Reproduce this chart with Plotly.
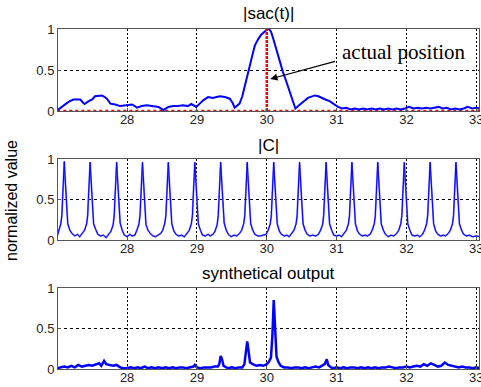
import plotly.graph_objects as go

# ---------------- data ----------------
# |sac(t)|
sac_x = [27.00, 27.03, 27.07, 27.12, 27.16, 27.23, 27.28, 27.33, 27.36, 27.39, 27.45, 27.50, 27.54,
         27.60, 27.64, 27.68, 27.71, 27.76, 27.83, 27.90, 27.97, 28.02, 28.07, 28.11, 28.14, 28.21,
         28.28, 28.33, 28.38, 28.45, 28.52, 28.59, 28.66, 28.73, 28.80, 28.87, 28.92, 28.96, 28.99,
         29.04, 29.09, 29.16, 29.23, 29.28, 29.33, 29.40, 29.47, 29.51, 29.54, 29.61, 29.65, 29.69,
         29.72, 29.76, 29.80, 29.83, 29.88, 29.92, 29.96, 30.00, 30.03, 30.06, 30.09, 30.12, 30.16,
         30.20, 30.23, 30.28, 30.33, 30.37, 30.41, 30.45, 30.50, 30.55, 30.59, 30.64, 30.69, 30.74,
         30.78, 30.84, 30.90, 30.96, 31.02, 31.08, 31.14, 31.20, 31.26, 31.32, 31.38, 31.44, 31.50,
         31.56, 31.62, 31.68, 31.74, 31.80, 31.86, 31.92, 31.98, 32.04, 32.10, 32.16, 32.22, 32.28,
         32.34, 32.40, 32.46, 32.52, 32.58, 32.64, 32.70, 32.76, 32.82, 32.88, 32.94, 33.00, 33.05]
sac_y = [0.01, 0.03, 0.05, 0.09, 0.11, 0.14, 0.14, 0.14, 0.11, 0.085, 0.12, 0.14, 0.18,
         0.19, 0.19, 0.17, 0.15, 0.09, 0.08, 0.06, 0.07, 0.07, 0.08, 0.06, 0.04, 0.06,
         0.07, 0.065, 0.06, 0.05, 0.01, 0.05, 0.06, 0.06, 0.07, 0.06, 0.085, 0.06, 0.05,
         0.09, 0.13, 0.17, 0.16, 0.17, 0.18, 0.17, 0.15, 0.10, 0.04, 0.09, 0.18, 0.32,
         0.44, 0.56, 0.70, 0.80, 0.88, 0.93, 0.96, 0.99, 1.00, 0.97, 0.89, 0.80, 0.68,
         0.56, 0.48, 0.36, 0.24, 0.13, 0.03, 0.06, 0.09, 0.13, 0.16, 0.18, 0.19, 0.18,
         0.16, 0.14, 0.12, 0.08, 0.05, 0.03, 0.04, 0.02, 0.03, 0.02, 0.03, 0.02, 0.03,
         0.02, 0.03, 0.02, 0.03, 0.02, 0.03, 0.02, 0.03, 0.05, 0.03, 0.04, 0.03, 0.04,
         0.03, 0.04, 0.05, 0.03, 0.04, 0.02, 0.03, 0.02, 0.03, 0.05, 0.03, 0.04, 0.03]

# actual position marker
actual_x = [30.0, 30.0]
actual_y = [0.0, 1.0]
zero_line_x = [27.0, 33.1]
zero_line_y = [0.0, 0.0]

# |C|
c_x = [27.00, 27.02, 27.05, 27.065, 27.075, 27.09, 27.10, 27.11, 27.125, 27.135, 27.15, 27.18, 27.21, 27.25, 27.29,
       27.32, 27.36, 27.39, 27.42, 27.435, 27.445, 27.46, 27.47, 27.48, 27.495, 27.505, 27.52, 27.55, 27.58, 27.62, 27.66,
       27.70, 27.74, 27.77, 27.80, 27.815, 27.825, 27.84, 27.85, 27.86, 27.875, 27.885, 27.90, 27.93, 27.96, 28.00, 28.04,
       28.07, 28.11, 28.14, 28.17, 28.185, 28.195, 28.21, 28.22, 28.23, 28.245, 28.255, 28.27, 28.30, 28.33, 28.37, 28.41,
       28.44, 28.48, 28.51, 28.54, 28.555, 28.565, 28.58, 28.59, 28.60, 28.615, 28.625, 28.64, 28.67, 28.70, 28.74, 28.78,
       28.82, 28.86, 28.89, 28.92, 28.935, 28.945, 28.96, 28.97, 28.98, 28.995, 29.005, 29.02, 29.05, 29.08, 29.12, 29.16,
       29.19, 29.23, 29.26, 29.29, 29.305, 29.315, 29.33, 29.34, 29.35, 29.365, 29.375, 29.39, 29.42, 29.45, 29.49, 29.53,
       29.57, 29.61, 29.64, 29.67, 29.685, 29.695, 29.71, 29.72, 29.73, 29.745, 29.755, 29.77, 29.80, 29.83, 29.87, 29.91,
       29.95, 29.99, 30.02, 30.05, 30.065, 30.075, 30.09, 30.10, 30.11, 30.125, 30.135, 30.15, 30.18, 30.21, 30.25, 30.29,
       30.32, 30.36, 30.39, 30.42, 30.435, 30.445, 30.46, 30.47, 30.48, 30.495, 30.505, 30.52, 30.55, 30.58, 30.62, 30.66,
       30.70, 30.74, 30.77, 30.80, 30.815, 30.825, 30.84, 30.85, 30.86, 30.875, 30.885, 30.90, 30.93, 30.96, 31.00, 31.04,
       31.07, 31.11, 31.14, 31.17, 31.185, 31.195, 31.21, 31.22, 31.23, 31.245, 31.255, 31.27, 31.30, 31.33, 31.37, 31.41,
       31.44, 31.48, 31.51, 31.54, 31.555, 31.565, 31.58, 31.59, 31.60, 31.615, 31.625, 31.64, 31.67, 31.70, 31.74, 31.78,
       31.82, 31.86, 31.89, 31.92, 31.935, 31.945, 31.96, 31.97, 31.98, 31.995, 32.005, 32.02, 32.05, 32.08, 32.12, 32.16,
       32.19, 32.23, 32.26, 32.29, 32.305, 32.315, 32.33, 32.34, 32.35, 32.365, 32.375, 32.39, 32.42, 32.45, 32.49, 32.53,
       32.56, 32.60, 32.63, 32.66, 32.675, 32.685, 32.70, 32.71, 32.72, 32.735, 32.745, 32.76, 32.79, 32.82, 32.86, 32.90,
       32.95, 33.00, 33.05]
c_y = [0.05, 0.10, 0.20, 0.30, 0.50, 0.80, 0.97, 0.80, 0.50, 0.30, 0.20, 0.12, 0.08, 0.05, 0.07,
       0.04, 0.08, 0.12, 0.20, 0.30, 0.50, 0.80, 0.96, 0.80, 0.50, 0.32, 0.20, 0.13, 0.07, 0.05, 0.06,
       0.03, 0.07, 0.11, 0.19, 0.30, 0.50, 0.80, 0.96, 0.80, 0.50, 0.30, 0.21, 0.12, 0.06, 0.04, 0.07,
       0.05, 0.06, 0.12, 0.20, 0.31, 0.50, 0.80, 0.96, 0.80, 0.50, 0.30, 0.19, 0.12, 0.08, 0.05, 0.04,
       0.06, 0.08, 0.12, 0.21, 0.30, 0.50, 0.80, 0.96, 0.80, 0.50, 0.31, 0.20, 0.11, 0.07, 0.05, 0.06,
       0.04, 0.08, 0.12, 0.20, 0.30, 0.50, 0.80, 0.96, 0.80, 0.50, 0.30, 0.20, 0.12, 0.06, 0.05, 0.07,
       0.05, 0.07, 0.11, 0.19, 0.30, 0.50, 0.80, 0.96, 0.80, 0.50, 0.30, 0.21, 0.12, 0.07, 0.04, 0.06,
       0.05, 0.08, 0.12, 0.20, 0.30, 0.50, 0.80, 0.96, 0.80, 0.50, 0.30, 0.20, 0.12, 0.07, 0.05, 0.05,
       0.06, 0.07, 0.12, 0.20, 0.30, 0.50, 0.80, 0.96, 0.80, 0.50, 0.30, 0.20, 0.11, 0.07, 0.05, 0.06,
       0.04, 0.08, 0.12, 0.20, 0.30, 0.50, 0.80, 0.96, 0.80, 0.50, 0.30, 0.20, 0.12, 0.07, 0.05, 0.06,
       0.05, 0.07, 0.12, 0.19, 0.30, 0.50, 0.80, 0.96, 0.80, 0.50, 0.30, 0.20, 0.12, 0.06, 0.05, 0.06,
       0.04, 0.08, 0.12, 0.20, 0.30, 0.50, 0.80, 0.96, 0.80, 0.50, 0.30, 0.20, 0.11, 0.07, 0.05, 0.06,
       0.05, 0.07, 0.12, 0.20, 0.30, 0.50, 0.80, 0.96, 0.80, 0.50, 0.30, 0.20, 0.12, 0.07, 0.04, 0.06,
       0.05, 0.08, 0.12, 0.20, 0.30, 0.50, 0.80, 0.96, 0.80, 0.50, 0.30, 0.20, 0.12, 0.06, 0.05, 0.06,
       0.04, 0.07, 0.12, 0.20, 0.30, 0.50, 0.80, 0.96, 0.80, 0.50, 0.30, 0.20, 0.11, 0.07, 0.05, 0.06,
       0.05, 0.08, 0.12, 0.20, 0.30, 0.50, 0.80, 0.96, 0.80, 0.50, 0.30, 0.20, 0.12, 0.07, 0.05, 0.06,
       0.04, 0.05, 0.04]

# synthetical output
syn_x = [27.00, 27.05, 27.10, 27.15, 27.20, 27.25, 27.30, 27.35, 27.40, 27.45, 27.50, 27.55, 27.60, 27.63, 27.67,
         27.70, 27.75, 27.80, 27.85, 27.90, 27.95, 28.00, 28.05, 28.10, 28.15, 28.20, 28.25, 28.30, 28.35, 28.40,
         28.45, 28.50, 28.55, 28.60, 28.65, 28.70, 28.75, 28.80, 28.85, 28.90, 28.95, 28.97, 29.00, 29.05, 29.10,
         29.15, 29.20, 29.25, 29.30, 29.32, 29.34, 29.36, 29.38, 29.42, 29.45, 29.50, 29.55, 29.60, 29.65, 29.68,
         29.71, 29.72, 29.74, 29.76, 29.80, 29.85, 29.90, 29.95, 30.00, 30.03, 30.06, 30.08, 30.10, 30.12, 30.14,
         30.17, 30.20, 30.25, 30.30, 30.35, 30.40, 30.45, 30.50, 30.55, 30.60, 30.65, 30.70, 30.75, 30.80, 30.83,
         30.86, 30.88, 30.92, 30.95, 31.00, 31.05, 31.10, 31.15, 31.20, 31.25, 31.30, 31.35, 31.40, 31.45, 31.50,
         31.55, 31.60, 31.65, 31.70, 31.75, 31.80, 31.85, 31.90, 31.95, 32.00, 32.05, 32.10, 32.15, 32.20, 32.25,
         32.30, 32.35, 32.40, 32.45, 32.50, 32.55, 32.60, 32.65, 32.70, 32.75, 32.80, 32.85, 32.90, 32.95, 33.00,
         33.05]
syn_y = [0.01, 0.02, 0.03, 0.02, 0.04, 0.02, 0.05, 0.03, 0.04, 0.05, 0.04, 0.06, 0.07, 0.04, 0.10,
         0.06, 0.05, 0.04, 0.05, 0.02, 0.01, 0.01, 0.02, 0.01, 0.02, 0.01, 0.03, 0.01, 0.02, 0.01,
         0.02, 0.01, 0.02, 0.01, 0.02, 0.01, 0.02, 0.02, 0.01, 0.02, 0.03, 0.05, 0.02, 0.01, 0.02,
         0.02, 0.02, 0.03, 0.03, 0.06, 0.16, 0.12, 0.04, 0.02, 0.01, 0.02, 0.01, 0.02, 0.02, 0.06,
         0.25, 0.34, 0.22, 0.08, 0.06, 0.04, 0.05, 0.04, 0.06, 0.09, 0.14, 0.40, 0.85, 0.40, 0.15,
         0.08, 0.04, 0.02, 0.02, 0.01, 0.02, 0.02, 0.01, 0.02, 0.01, 0.02, 0.03, 0.02, 0.04, 0.06,
         0.12, 0.05, 0.02, 0.01, 0.02, 0.01, 0.02, 0.01, 0.02, 0.02, 0.01, 0.02, 0.01, 0.02, 0.01,
         0.02, 0.01, 0.02, 0.02, 0.03, 0.02, 0.01, 0.02, 0.02, 0.03, 0.02, 0.03, 0.04, 0.03, 0.06,
         0.04, 0.07, 0.05, 0.03, 0.04, 0.08, 0.05, 0.04, 0.03, 0.02, 0.03, 0.02, 0.02, 0.01, 0.02,
         0.01]

x_tick_vals = [28, 29, 30, 31, 32, 33]
x_tick_text = ["28", "29", "30", "31", "32", "33"]
y_tick_vals = [0, 0.5, 1]
y_tick_text = ["0", "0.5", "1"]

titles = ["|sac(t)|", "|C|", "synthetical output"]
y_label = "normalized value"
arrow_text = "actual position"

# ---------------- figure ----------------
W, H = 481, 387
BLUE = "#0000ff"

fig = go.Figure()
fig.add_trace(go.Scatter(x=zero_line_x, y=zero_line_y, mode="lines",
                         line=dict(color="red", width=2.5, dash="dot"), xaxis="x", yaxis="y"))
fig.add_trace(go.Scatter(x=sac_x, y=sac_y, mode="lines",
                         line=dict(color=BLUE, width=2), xaxis="x", yaxis="y"))
fig.add_trace(go.Scatter(x=actual_x, y=actual_y, mode="lines",
                         line=dict(color="red", width=2.5, dash="3px,1px"), xaxis="x", yaxis="y"))
fig.add_trace(go.Scatter(x=c_x, y=c_y, mode="lines",
                         line=dict(color="#7777ff", width=1.8), xaxis="x2", yaxis="y2"))
fig.add_trace(go.Scatter(x=c_x, y=c_y, mode="lines",
                         line=dict(color=BLUE, width=1), xaxis="x2", yaxis="y2"))
fig.add_trace(go.Scatter(x=syn_x, y=syn_y, mode="lines",
                         line=dict(color=BLUE, width=2.5), xaxis="x3", yaxis="y3"))

x_dom = [58 / W, 479 / W]
y_doms = [[1 - 111 / H, 1 - 29 / H], [1 - 240 / H, 1 - 159 / H], [1 - 369 / H, 1 - 288 / H]]

tick_font = dict(family="Arial, Liberation Sans", size=13, color="#222")
common_x = dict(range=[27.01, 33.04], tickvals=x_tick_vals, ticktext=x_tick_text,
                showgrid=True, gridcolor="#000", griddash="2px,2px", gridwidth=1,
                showline=True, linecolor="#555", linewidth=1, mirror=True,
                ticks="inside", ticklen=3, tickcolor="#555", zeroline=False,
                tickfont=tick_font, domain=x_dom, automargin=False,
                ticklabelstandoff=-4, ticklabeloverflow="allow")
common_y = dict(range=[0, 1], tickvals=y_tick_vals, ticktext=y_tick_text,
                showgrid=True, gridcolor="#000", griddash="3px,3px", gridwidth=1,
                showline=True, linecolor="#555", linewidth=1, mirror=True,
                ticks="inside", ticklen=3, tickcolor="#555", zeroline=False,
                tickfont=tick_font, automargin=False)

layout = dict(width=W, height=H, margin=dict(l=0, r=0, t=0, b=0, autoexpand=False),
              paper_bgcolor="white", plot_bgcolor="white", showlegend=False)
for i in range(3):
    sfx = "" if i == 0 else str(i + 1)
    layout["xaxis" + sfx] = dict(common_x, anchor="y" + sfx)
    layout["yaxis" + sfx] = dict(common_y, anchor="x" + sfx, domain=y_doms[i])
fig.update_layout(**layout)

title_font = dict(family="Arial, Liberation Sans", size=17, color="black")
cx = (58 + 479) / 2 / W
for t, py in zip(titles, [14, 145, 273]):
    fig.add_annotation(text=t, x=cx, y=1 - py / H, xref="paper", yref="paper",
                       showarrow=False, xanchor="center", yanchor="middle", font=title_font)

fig.add_annotation(text=y_label, x=11 / W, y=1 - 201 / H, xref="paper", yref="paper",
                   showarrow=False, textangle=-90, xanchor="center", yanchor="middle",
                   font=dict(family="Arial, Liberation Sans", size=16, color="black"))

# arrow and its text
fig.add_annotation(text="", x=30.05, y=0.39, xref="x", yref="y",
                   ax=31.0, ay=0.61, axref="x", ayref="y",
                   showarrow=True, arrowhead=2, arrowsize=1.2, arrowwidth=1.2, arrowcolor="black")
fig.add_annotation(text=arrow_text, x=31.97, y=0.72, xref="x", yref="y",
                   showarrow=False, xanchor="center", yanchor="middle",
                   font=dict(family="Times New Roman, Liberation Serif", size=21, color="black"))

fig.write_html("out.html", config={"displayModeBar": False},
               post_script="document.body.style.margin='0px';document.body.style.overflow='hidden';")
